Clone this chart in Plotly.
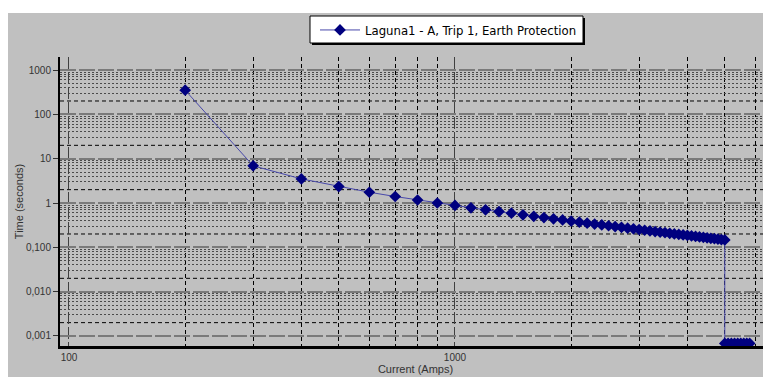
import math
import plotly.graph_objects as go

# ---- data ----
curve_current = [200, 300, 400, 500, 600, 700, 800, 900, 1000,
                 1100, 1200, 1300, 1400, 1500, 1600, 1700, 1800, 1900, 2000,
                 2100, 2200, 2300, 2400, 2500, 2600, 2700, 2800, 2900, 3000,
                 3100, 3200, 3300, 3400, 3500, 3600, 3700, 3800, 3900, 4000,
                 4100, 4200, 4300, 4400, 4500, 4600, 4700, 4800, 4900, 5000]
curve_time = [350, 6.9, 3.5, 2.35, 1.75, 1.4, 1.17, 1.0, 0.88,
              0.78, 0.70, 0.64, 0.59, 0.54, 0.50, 0.47, 0.44, 0.415, 0.39,
              0.37, 0.35, 0.335, 0.32, 0.307, 0.294, 0.282, 0.271, 0.261, 0.252,
              0.243, 0.235, 0.227, 0.22, 0.214, 0.207, 0.201, 0.196, 0.191, 0.186,
              0.181, 0.176, 0.172, 0.168, 0.164, 0.16, 0.157, 0.153, 0.15, 0.147]
inst_current = [5000, 5100, 5200, 5300, 5400, 5500, 5600, 5700, 5800]
inst_time = [0.00068, 0.00068, 0.00068, 0.00068, 0.00068, 0.00068, 0.00068, 0.00068, 0.00068]

series_name = "Laguna1 - A, Trip 1, Earth Protection"

y_major_vals = [1000, 100, 10, 1, 0.1, 0.01, 0.001]
y_major_text = ["1000", "100", "10", "1", "0,100", "0,010", "0,001"]
y_two_vals = [0.002, 0.02, 0.2, 2, 20, 200]
y_base_val = 0.001
y_minor_vals = [m * d for d in [0.001, 0.01, 0.1, 1, 10, 100] for m in [3, 4, 5, 6, 7, 8, 9]]
x_major_vals = [100, 1000]
x_major_text = ["100", "1000"]
x_minor_vals = [200, 300, 400, 500, 600, 700, 800, 900, 2000, 3000, 4000, 5000, 6000]

# ---- layout geometry (pixels); page body adds an 8px offset ----
OFF = 8
W, H = 771 - OFF, 377 - OFF
L, R, T = 60 - OFF, 0, 57 - OFF
B = H - (346 - OFF)
pw, ph = W - L - R, H - T - B
Y_RANGE = [-3.2257, 3.2935]
X_RANGE = [1.9767, 3.8187]


def px(xp):
    """reference screen x -> paper x"""
    return (xp - OFF - L) / pw


def py(yp):
    """reference screen y -> paper y"""
    return (H - B - (yp - OFF)) / ph


def yfrac(v):
    return (math.log10(v) - Y_RANGE[0]) / (Y_RANGE[1] - Y_RANGE[0])


fig = go.Figure()
fig.add_trace(go.Scatter(
    x=curve_current + inst_current,
    y=curve_time + inst_time,
    mode="lines+markers",
    name=series_name,
    line=dict(color="#4848aa", width=1),
    marker=dict(symbol="diamond", size=9, color="#00007f", line=dict(width=0)),
))

tickfont = dict(family="Liberation Sans, Arial, sans-serif", size=10, color="#333333")

shapes = [
    # gray chart panel
    dict(type="rect", xref="paper", yref="paper", layer="below",
         x0=px(8), x1=px(W + 20), y0=py(H + 20), y1=py(13),
         fillcolor="#c0c0c0", line=dict(width=0)),
]
for v in y_two_vals:
    shapes.append(dict(type="line", xref="paper", yref="paper", layer="between",
                       x0=0, x1=1, y0=yfrac(v), y1=yfrac(v),
                       line=dict(color="#000000", width=1, dash="4px,3px")))
shapes.append(dict(type="line", xref="paper", yref="paper", layer="between",
                   x0=0, x1=1, y0=yfrac(y_base_val), y1=yfrac(y_base_val),
                   line=dict(color="#c0c0c0", width=4)))
shapes.append(dict(type="line", xref="paper", yref="paper", layer="between",
                   x0=0, x1=1, y0=yfrac(y_base_val), y1=yfrac(y_base_val),
                   line=dict(color="#000000", width=1.5, dash="14px,5px")))
# legend box with shadow
shapes.append(dict(type="rect", xref="paper", yref="paper", layer="above",
                   x0=px(312), x1=px(585), y0=py(45), y1=py(18),
                   fillcolor="#000000", line=dict(width=0)))
shapes.append(dict(type="rect", xref="paper", yref="paper", layer="above",
                   x0=px(310), x1=px(583), y0=py(43), y1=py(16),
                   fillcolor="#ffffff", line=dict(color="#000000", width=1)))

fig.update_layout(
    width=W, height=H,
    margin=dict(l=L, r=R, t=T, b=B, autoexpand=False),
    paper_bgcolor="white",
    plot_bgcolor="rgba(0,0,0,0)",
    showlegend=True,
    legend=dict(
        x=px(315), y=py(30), xanchor="left", yanchor="middle",
        bgcolor="rgba(0,0,0,0)", borderwidth=0,
        font=dict(family="Liberation Sans Narrow, Arial Narrow, DejaVu Sans Condensed, sans-serif",
                  size=13, color="#000000"),
        itemwidth=40,
    ),
    xaxis=dict(
        type="log", range=X_RANGE, automargin=False,
        tickvals=x_major_vals, ticktext=x_major_text,
        tickfont=tickfont, ticks="",
        showgrid=True, gridcolor="#404040", gridwidth=1, griddash="12px,3px",
        minor=dict(tickvals=x_minor_vals, showgrid=True, gridcolor="#000000",
                   gridwidth=1, griddash="4px,3px", ticks=""),
        showline=True, linecolor="#000000", linewidth=2.5,
        title=dict(text="Current (Amps)", font=dict(family="Liberation Sans, Arial, sans-serif",
                                                     size=11, color="#333333"), standoff=4),
        zeroline=False,
    ),
    yaxis=dict(
        type="log", range=Y_RANGE, automargin=False,
        tickvals=y_major_vals, ticktext=y_major_text,
        tickfont=tickfont, ticks="outside", ticklen=5, tickcolor="#333333",
        showgrid=True, gridcolor="#7a7a7a", gridwidth=2, griddash="16px,3px",
        minor=dict(tickvals=y_minor_vals, showgrid=True, gridcolor="#4a4a4a",
                   gridwidth=1, griddash="2px,2px", ticks=""),
        showline=True, linecolor="#000000", linewidth=2,
        title=dict(text="Time (seconds)", font=dict(family="Liberation Sans, Arial, sans-serif",
                                                     size=11, color="#333333"), standoff=0),
        zeroline=False,
    ),
    shapes=shapes,
)

fig.write_html("out.html")
